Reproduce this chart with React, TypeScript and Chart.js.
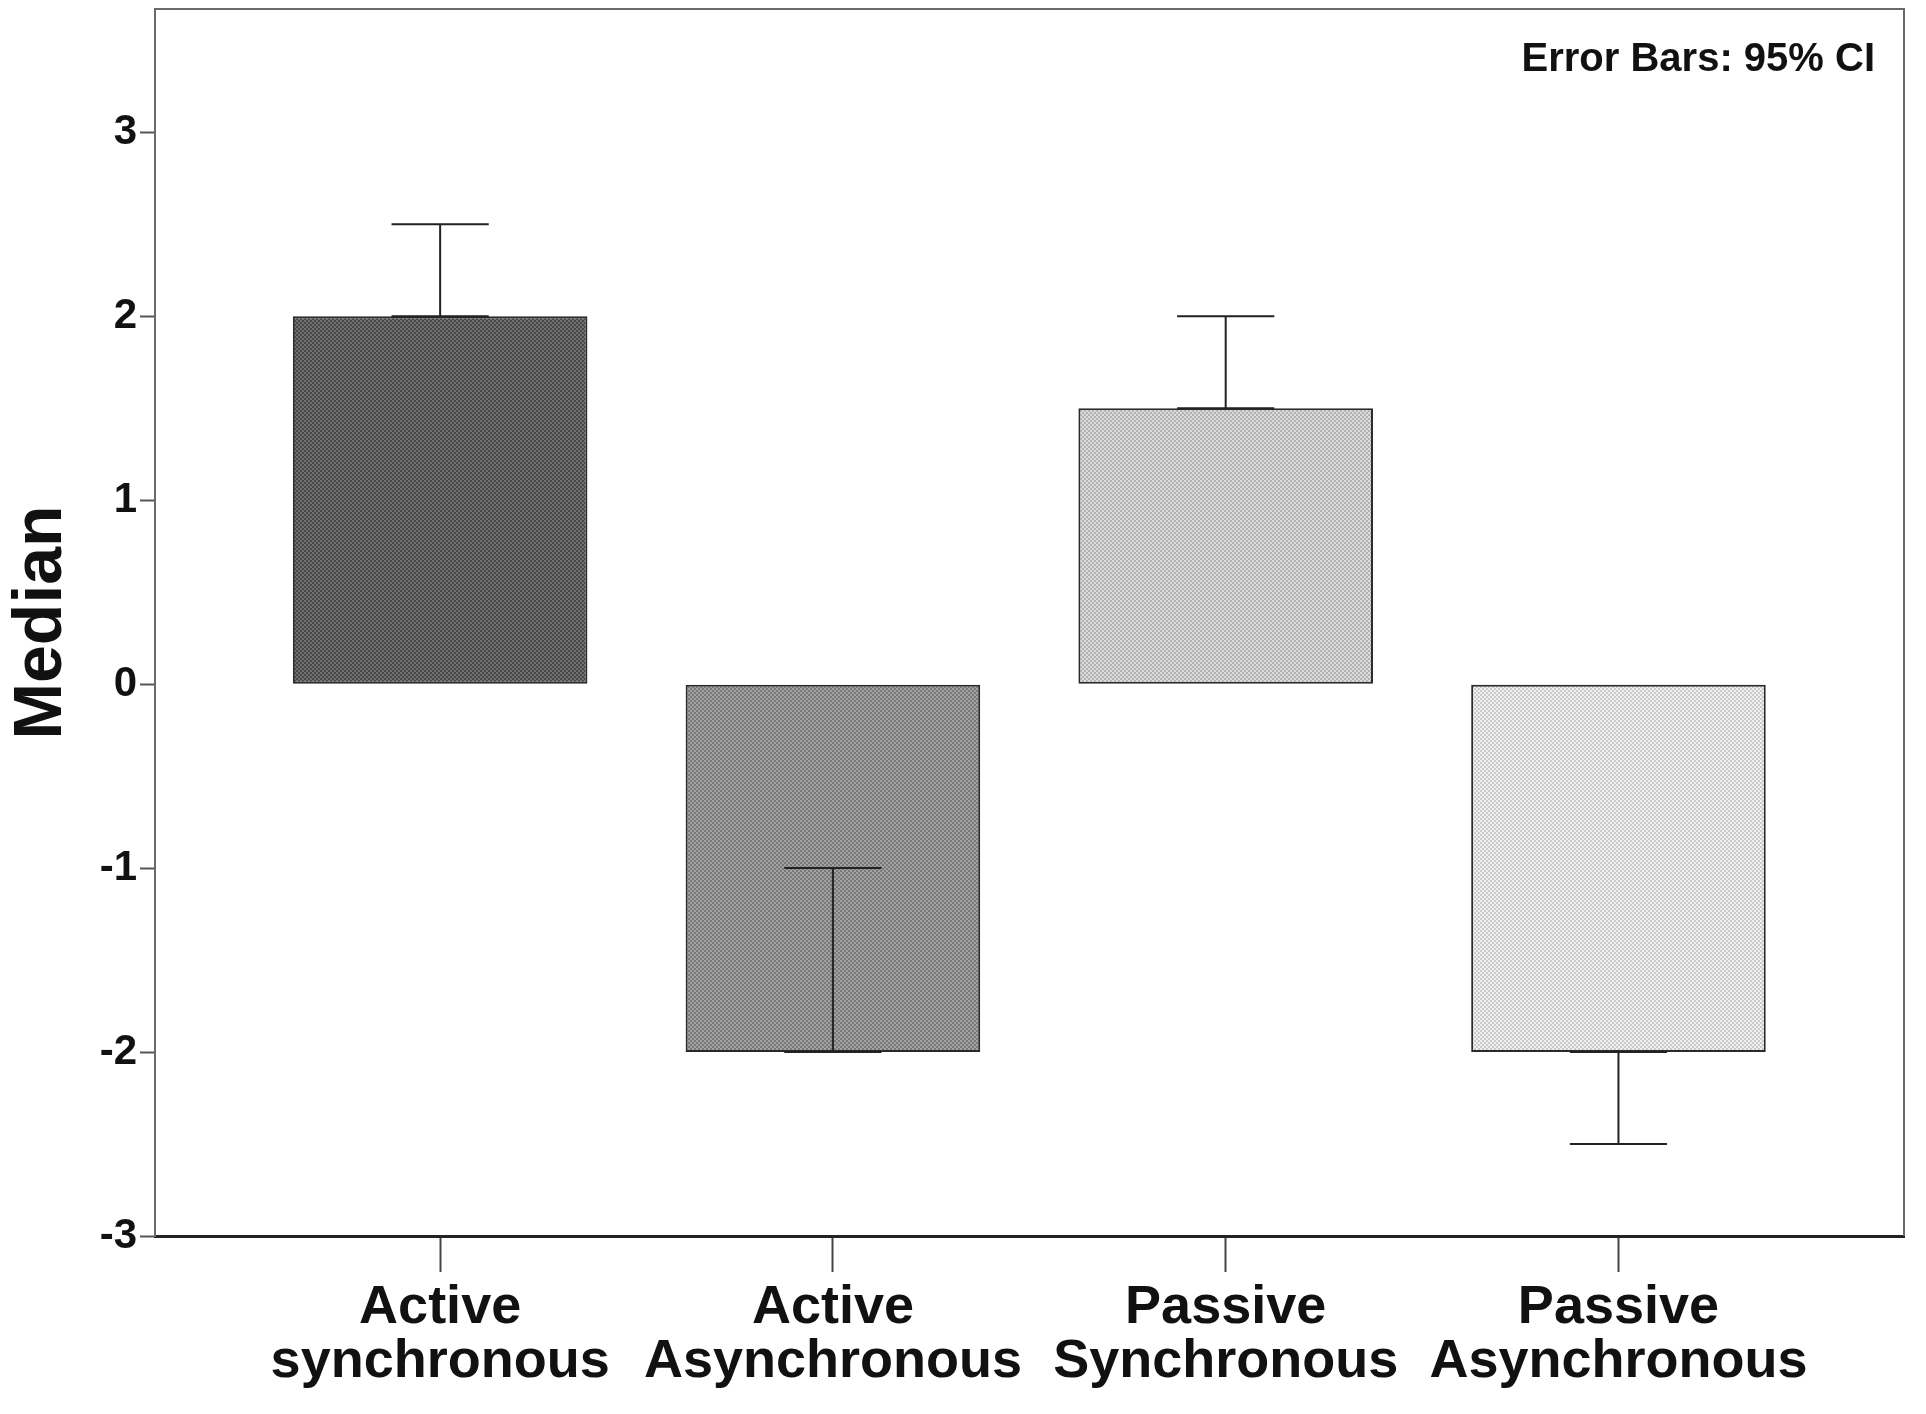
import React, { useEffect, useRef } from 'react';
import { Chart, registerables } from 'chart.js';

Chart.register(...registerables);

// groups, split in two lines like the original axis labels
const categories: string[][] = [
  ['Active', 'synchronous'],
  ['Active', 'Asynchronous'],
  ['Passive', 'Synchronous'],
  ['Passive', 'Asynchronous'],
];
const medians = [2, -2, 1.5, -2];
const ciLower = [2, -2, 1.5, -2.5];
const ciUpper = [2.5, -1, 2, -2];
const yTicks = [-3, -2, -1, 0, 1, 2, 3];

// two tones per bar for the dotted SPSS fill
const barTones: [string, string][] = [
  ['#474747', '#707070'],
  ['#7a7a7a', '#a2a2a2'],
  ['#b2b2b2', '#dcdcdc'],
  ['#cacaca', '#f0f0f0'],
];

const FONT = "'Liberation Sans', Arial, sans-serif";

const makePattern = (dark: string, light: string) => {
  const c = document.createElement('canvas');
  c.width = 4;
  c.height = 4;
  const g = c.getContext('2d')!;
  g.fillStyle = dark;
  g.fillRect(0, 0, 4, 4);
  g.fillStyle = light;
  g.fillRect(0, 0, 2, 2);
  g.fillRect(2, 2, 2, 2);
  return g.createPattern(c, 'repeat') as CanvasPattern;
};

const errorBarPlugin = {
  id: 'errorBars',
  afterDatasetsDraw(chart: any) {
    const { ctx, scales } = chart;
    const meta = chart.getDatasetMeta(0);
    ctx.save();
    ctx.strokeStyle = '#222';
    ctx.lineWidth = 2;
    meta.data.forEach((bar: any, i: number) => {
      const x = scales.x.getPixelForValue(i + 1);
      const y1 = scales.y.getPixelForValue(ciLower[i]);
      const y2 = scales.y.getPixelForValue(ciUpper[i]);
      const half = bar.width * 0.165;
      ctx.beginPath();
      ctx.moveTo(x, y1);
      ctx.lineTo(x, y2);
      ctx.moveTo(x - half, y1);
      ctx.lineTo(x + half, y1);
      ctx.moveTo(x - half, y2);
      ctx.lineTo(x + half, y2);
      ctx.stroke();
    });
    ctx.restore();
  },
};

const framePlugin = {
  id: 'frame',
  afterDraw(chart: any) {
    const { ctx, chartArea } = chart;
    const { left, right, top, bottom } = chartArea;
    ctx.save();
    ctx.strokeStyle = '#6a6a6a';
    ctx.lineWidth = 2;
    ctx.beginPath();
    ctx.moveTo(left, bottom);
    ctx.lineTo(left, top);
    ctx.lineTo(right, top);
    ctx.lineTo(right, bottom);
    ctx.stroke();
    // note in the upper right corner
    ctx.fillStyle = '#111';
    ctx.font = `bold 40px ${FONT}`;
    ctx.textAlign = 'right';
    ctx.textBaseline = 'alphabetic';
    ctx.fillText('Error Bars: 95% CI', right - 29, top + 62);
    ctx.restore();
  },
};

const App: React.FC = () => {
  const canvasRef = useRef<HTMLCanvasElement>(null);
  const chartRef = useRef<Chart | null>(null);

  useEffect(() => {
    if (!canvasRef.current) return;
    if (chartRef.current) chartRef.current.destroy();

    const patterns = barTones.map(([d, l]) => makePattern(d, l));

    chartRef.current = new Chart(canvasRef.current, {
      type: 'bar',
      data: {
        datasets: [
          {
            data: medians.map((v, i) => ({ x: i + 1, y: v })),
            backgroundColor: patterns,
            borderColor: '#2a2a2a',
            borderWidth: 2,
            borderSkipped: false,
            barPercentage: 0.75,
            categoryPercentage: 1,
          },
        ],
      },
      options: {
        animation: false,
        responsive: true,
        maintainAspectRatio: false,
        layout: { padding: { top: 9, right: 22, left: 0, bottom: 0 } },
        plugins: {
          legend: { display: false },
          tooltip: { enabled: false },
        },
        scales: {
          x: {
            type: 'linear',
            offset: false,
            min: 0.274,
            max: 4.727,
            afterBuildTicks: (scale: any) => {
              scale.ticks = categories.map((_, i) => ({ value: i + 1 }));
            },
            afterFit: (scale: any) => {
              scale.height = 178;
              scale.paddingLeft = 0;
              scale.paddingRight = 0;
            },
            grid: {
              offset: false,
              drawOnChartArea: false,
              drawTicks: true,
              tickLength: 36,
              tickWidth: 2,
              tickColor: '#444',
            },
            border: { display: true, color: '#222', width: 3 },
            ticks: {
              autoSkip: false,
              maxRotation: 0,
              padding: 9,
              color: '#111',
              font: { family: FONT, size: 54, weight: 'bold', lineHeight: 1.0 },
              callback: (value: any) => categories[Number(value) - 1] ?? '',
            },
          },
          y: {
            min: -3,
            max: 3.67,
            afterBuildTicks: (scale: any) => {
              scale.ticks = yTicks.map((v) => ({ value: v }));
            },
            afterFit: (scale: any) => {
              scale.width = 155;
              scale.paddingTop = 0;
              scale.paddingBottom = 0;
            },
            grid: {
              drawOnChartArea: false,
              drawTicks: true,
              tickLength: 15,
              tickWidth: 2,
              tickColor: '#555',
            },
            border: { display: true, color: '#6a6a6a', width: 2 },
            ticks: {
              padding: 3,
              color: '#111',
              font: { family: FONT, size: 42, weight: 'bold' },
            },
            title: {
              display: true,
              text: 'Median',
              color: '#111',
              padding: { top: 8, bottom: 0 },
              font: { family: FONT, size: 68, weight: 'bold', lineHeight: 1 },
            },
          },
        },
      },
      plugins: [errorBarPlugin, framePlugin],
    } as any);

    return () => {
      if (chartRef.current) {
        chartRef.current.destroy();
        chartRef.current = null;
      }
    };
  }, []);

  return (
    <div style={{ position: 'fixed', left: 0, top: 0, width: 1926, height: 1414, background: '#fff' }}>
      <canvas ref={canvasRef} />
    </div>
  );
};

export default App;
